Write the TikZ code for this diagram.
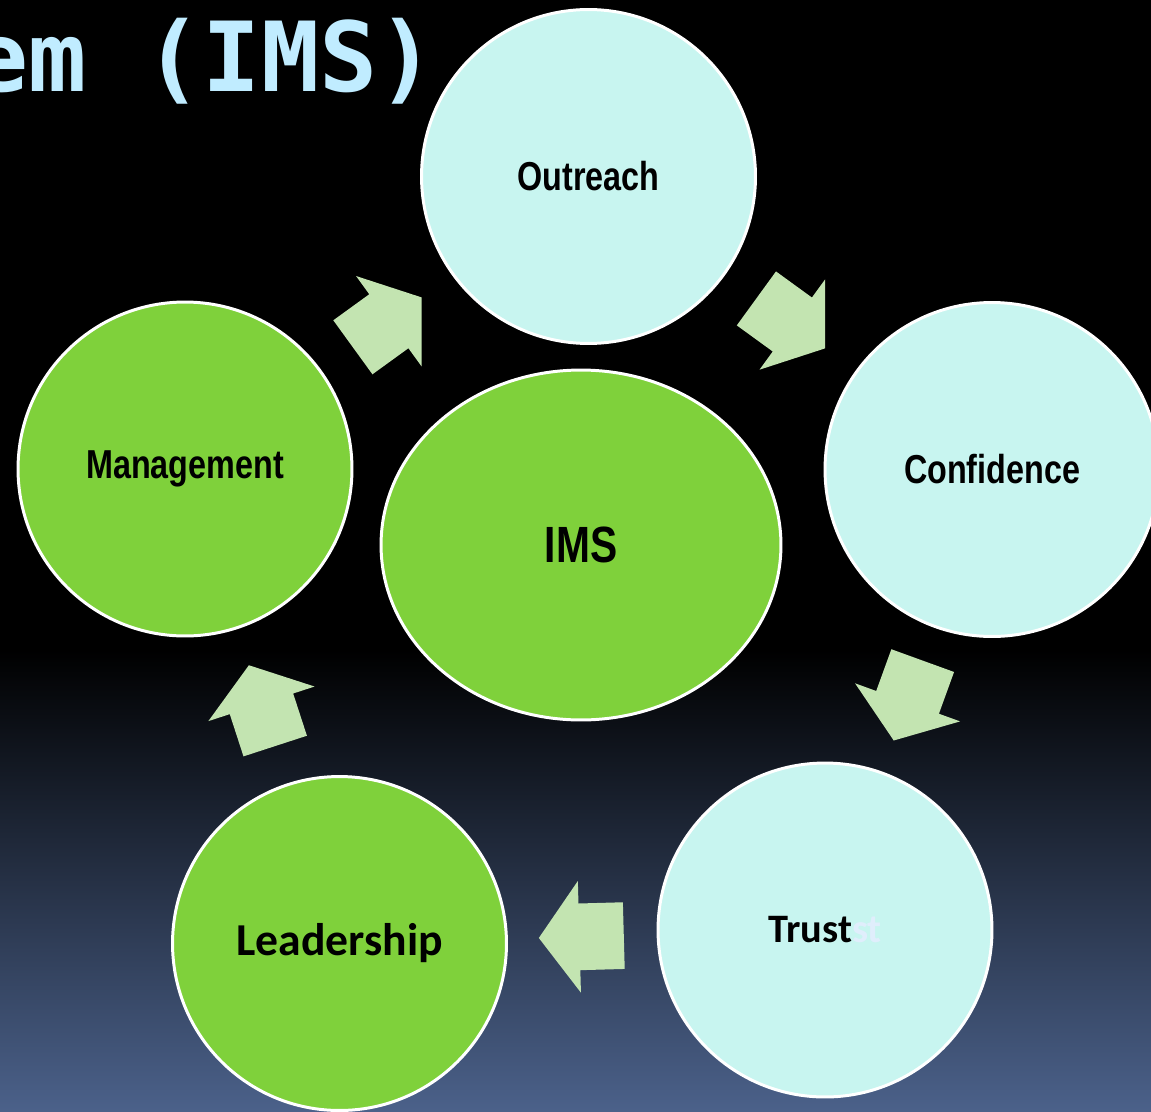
\documentclass[tikz,border=0pt]{standalone}
\usepackage{fontspec}
\setmainfont{Liberation Sans}
\newfontfamily\narrowfont[FakeStretch=0.8]{Liberation Sans}
\newfontfamily\calfont{Carlito}
\newfontfamily\titlefont{DejaVu Sans Mono}
\usetikzlibrary{shapes.geometric, shapes.arrows}

\definecolor{fondoazul}{RGB}{75,97,138}
\definecolor{celeste}{RGB}{200,245,240}
\definecolor{verde}{RGB}{127,209,59}
\definecolor{flecha}{RGB}{195,228,177}
\definecolor{titulo}{RGB}{192,236,255}
\definecolor{fantasma}{RGB}{224,238,252}

\tikzset{
  circulo/.style={circle, draw=white, line width=1.7pt, minimum size=6.68cm, inner sep=0pt},
  claro/.style={circulo, fill=celeste},
  oscuro/.style={circulo, fill=verde},
  estrecho/.style={font=\narrowfont\bfseries\fontsize{23}{27}\selectfont},
  calibri/.style={font=\calfont\bfseries\fontsize{#1}{30}\selectfont},
  ciclo/.style={single arrow, fill=flecha, draw=none,
    inner xsep=0pt, inner ysep=0.66cm, text height=0pt, text depth=0pt,
    minimum width=2.22cm, minimum height=1.7cm,
    single arrow head extend=0.45cm, single arrow tip angle=108,
    pos=0.477, sloped, allow upside down}
}

\begin{document}
\begin{tikzpicture}[x=0.02cm, y=-0.02cm]

    % Fondo
    \useasboundingbox (0,0) rectangle (1151,1111);
    \fill[black] (0,0) rectangle (1151,1111);
    \shade[top color=black, bottom color=fondoazul] (0,650) rectangle (1151,1111);

    % Titulo cortado
    \node[anchor=base east, inner sep=0pt, text=titulo,
      font=\titlefont\bfseries\fontsize{55}{60}\selectfont] (titulo) at (436,92) {em (IMS)};

    % Circulos del ciclo
    \node[claro, estrecho] (outreach) at (588.5,176.5) {Outreach};
    \node[claro, estrecho] (confidence) at (992,469.5) {Confidence};
    \node[claro, calibri=23] (trust) at (825,930) {Trust\textcolor{fantasma}{st}};
    \node[oscuro, calibri=26] (leadership) at (339.5,943.5) {Leadership};
    \node[oscuro, estrecho] (management) at (185,469) {Management};

    % Elipse central
    \node[ellipse, draw=white, line width=1.7pt, fill=verde, inner sep=0pt,
      minimum width=8cm, minimum height=7cm,
      font=\narrowfont\bfseries\fontsize{29}{33}\selectfont] (ims) at (581,545) {IMS};

    % Flechas entre circulos
    \path (management.center) -- node[ciclo] (f1) {} (outreach.center);
    \path (outreach.center) -- node[ciclo] (f2) {} (confidence.center);
    \path (confidence.center) -- node[ciclo] (f3) {} (trust.center);
    \path (trust.center) -- node[ciclo] (f4) {} (leadership.center);
    \path (leadership.center) -- node[ciclo] (f5) {} (management.center);

\end{tikzpicture}
\end{document}
